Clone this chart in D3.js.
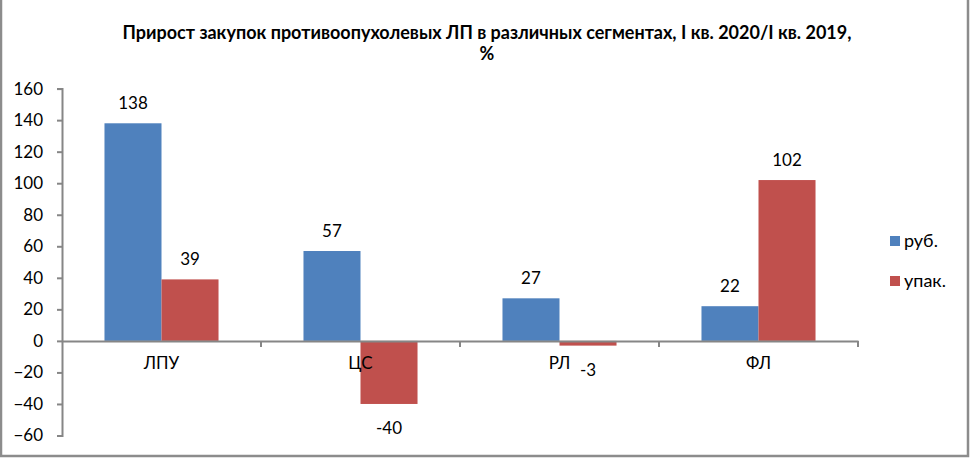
<!DOCTYPE html>
<html>
<head>
<meta charset="utf-8">
<script src="https://cdn.jsdelivr.net/npm/d3@7"></script>
<style>
  body { margin: 0; background: #fff; }
  svg { display: block; font-family: Lato, "Open Sans", sans-serif; }
</style>
</head>
<body>
<div id="chart"></div>
<script>
// data
var categories = ["ЛПУ", "ЦС", "РЛ", "ФЛ"];
var seriesNames = ["руб.", "упак."];
var rub = [138, 57, 27, 22];
var upak = [39, -40, -3, 102];
var yTicks = [-60, -40, -20, 0, 20, 40, 60, 80, 100, 120, 140, 160];
var colors = ["#4F81BD", "#C0504D"];

var W = 970, H = 458;
var margin = {left: 62, right: 112, top: 88.6, bottom: 22.5};

var svg = d3.select("#chart").append("svg")
  .attr("width", W).attr("height", H);

// border
svg.append("path")
  .attr("d", "M1,0V456H968V0")
  .attr("fill", "none").attr("stroke", "#8c8c8c").attr("stroke-width", 2.5);

// title
svg.append("text").attr("x", 487).attr("y", 39)
  .attr("text-anchor", "middle").style("font-weight", "bold").style("font-size", "18px")
  .text("Прирост закупок противоопухолевых ЛП в различных сегментах, I кв. 2020/I кв. 2019,");
svg.append("text").attr("x", 487).attr("y", 60)
  .attr("text-anchor", "middle").style("font-weight", "bold").style("font-size", "18px")
  .text("%");

var x0 = d3.scaleBand().domain(categories)
  .range([margin.left, W - margin.right]).paddingInner(0).paddingOuter(0);
var x1 = d3.scaleBand().domain(seriesNames)
  .range([0, x0.bandwidth()]).paddingInner(0).paddingOuter(0.745);
var y = d3.scaleLinear().domain([-60, 160]).range([H - margin.bottom, margin.top]);

var g = svg.append("g");

// y axis
var yAxis = d3.axisLeft(y).tickValues(yTicks).tickSize(5).tickPadding(14);
var ya = g.append("g").attr("transform", "translate(" + margin.left + ",0)").call(yAxis);
ya.selectAll("path, line").attr("stroke", "#868686").attr("stroke-width", 2);
ya.selectAll("text").style("font-size", "17px").attr("fill", "#000")
  .style("font-family", "Lato, sans-serif");

// bars
var rows = categories.map(function(c, i) {
  return {cat: c, vals: [{s: seriesNames[0], v: rub[i], k: 0}, {s: seriesNames[1], v: upak[i], k: 1}]};
});

var cg = g.selectAll(".cat").data(rows).enter().append("g")
  .attr("transform", function(d) { return "translate(" + x0(d.cat) + ",0)"; });

cg.selectAll("rect").data(function(d) { return d.vals; }).enter().append("rect")
  .attr("x", function(d) { return x1(d.s); })
  .attr("width", x1.bandwidth())
  .attr("y", function(d) { return y(Math.max(0, d.v)); })
  .attr("height", function(d) { return Math.abs(y(d.v) - y(0)); })
  .attr("fill", function(d) { return colors[d.k]; });

cg.selectAll(".lbl").data(function(d) { return d.vals; }).enter().append("text")
  .attr("x", function(d) { return x1(d.s) + x1.bandwidth() / 2; })
  .attr("y", function(d) { return d.v >= 0 ? y(d.v) - 14 : y(d.v) + 30; })
  .attr("text-anchor", "middle").style("font-size", "17px")
  .text(function(d) { return d.v; });

// x axis at zero
var xAxis = d3.axisBottom(x0).tickSize(0).tickPadding(16);
var xa = g.append("g").attr("transform", "translate(0," + y(0) + ")").call(xAxis);
xa.select(".domain").attr("stroke", "#868686").attr("stroke-width", 2);
xa.selectAll("text").style("font-size", "17px").attr("fill", "#000")
  .style("font-family", "Lato, sans-serif");
// boundary ticks
xa.selectAll(".bnd").data(categories.slice(1).concat(["end"])).enter().append("line")
  .attr("x1", function(d) { return d === "end" ? W - margin.right : x0(d); })
  .attr("x2", function(d) { return d === "end" ? W - margin.right : x0(d); })
  .attr("y1", 0).attr("y2", 6)
  .attr("stroke", "#868686").attr("stroke-width", 2);

// legend
var lg = svg.append("g").attr("transform", "translate(890,236)");
seriesNames.forEach(function(s, i) {
  lg.append("rect").attr("x", 0).attr("y", i * 40).attr("width", 10).attr("height", 10)
    .attr("fill", colors[i]);
  lg.append("text").attr("x", 14).attr("y", i * 40 + 11).style("font-size", "18px").text(s);
});
</script>
</body>
</html>
